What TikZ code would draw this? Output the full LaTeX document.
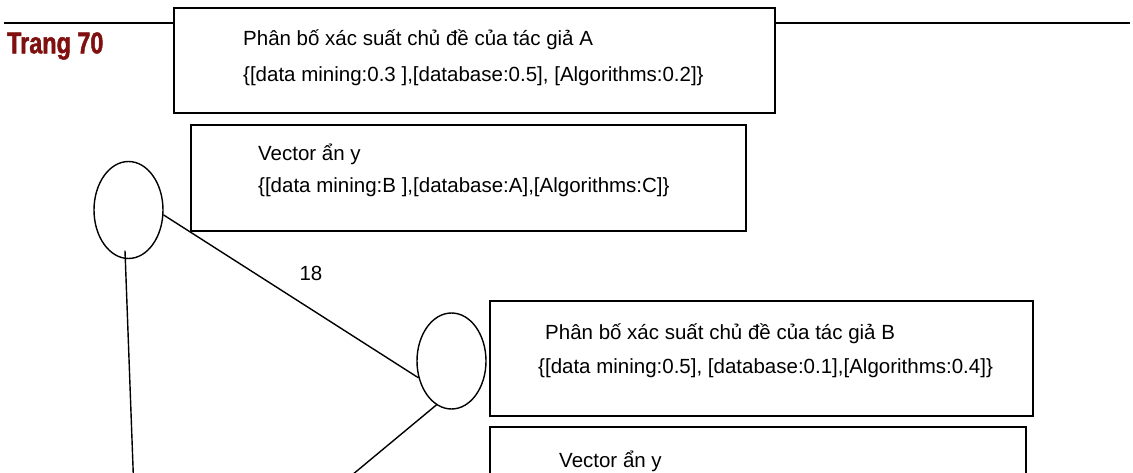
\documentclass[tikz,border=0pt]{standalone}
\usepackage{fontspec}
\setmainfont{Liberation Sans}
\newfontfamily\trangfont[FakeStretch=0.78,BoldFeatures={FakeBold=1.5}]{Liberation Sans}
\usetikzlibrary{shapes.geometric}
\definecolor{trangred}{RGB}{128,16,16}
\begin{document}
\begin{tikzpicture}[x=1pt,y=-1pt,
  box/.style={draw, line width=1.6pt, fill=white, inner sep=0pt, anchor=north west},
  txt/.style={anchor=base west, inner sep=0pt, font=\fontsize{20.5}{22}\selectfont},
  circ/.style={draw, ellipse, line width=1.4pt, inner sep=0pt, minimum width=69pt, minimum height=97pt},
  link/.style={line width=1.4pt},
  rule/.style={line width=2.8pt}]
\useasboundingbox (0,0) rectangle (1133,473);
\clip (0,0) rectangle (1133,473);
% header rule
\coordinate (hl) at (4,23);
\coordinate (hr) at (1130,23);
\draw[rule] (hl) -- (hr);
\node[anchor=west, inner sep=0pt, text=trangred, font=\trangfont\bfseries\fontsize{30}{32}\selectfont] (trang) at (7,46) {Trang 70};
% boxes
\node[box, minimum width=601pt, minimum height=105pt] (boxA) at (173,7) {};
\node[box, minimum width=555pt, minimum height=106pt] (boxY1) at (190,124) {};
\node[box, minimum width=543pt, minimum height=115pt] (boxB) at (489,300) {};
\node[box, minimum width=536pt, minimum height=90pt] (boxY2) at (489,426) {};
% texts
\node[txt] (a1) at (243,46) {Phân bố xác suất chủ đề của tác giả A};
\node[txt] (a2) at (243,82) {\{[data mining:0.3 ],[database:0.5], [Algorithms:0.2]\}};
\node[txt] (y1) at (258,161) {Vector ẩn y};
\node[txt] (y2) at (258,193) {\{[data mining:B ],[database:A],[Algorithms:C]\}};
\node[txt] (b1) at (545,339) {Phân bố xác suất chủ đề của tác giả B};
\node[txt] (b2) at (538,373) {\{[data mining:0.5], [database:0.1],[Algorithms:0.4]\}};
\node[txt] (y3) at (559,467) {Vector ẩn y};
% author nodes
\node[circ] (c1) at (128.5,210) {};
\node[circ, minimum height=96pt] (c2) at (451.5,361) {};
\draw[link] (c1.-8) -- (c2.-153);
\node[txt, anchor=center] (w18) at (311,273) {18};
\coordinate (v1end) at (133.5,480);
\coordinate (v2end) at (346,480);
\draw[link] ([xshift=-3.5pt,yshift=8.5pt]c1.south) -- (v1end);
\draw[link] (c2.251) -- (v2end);
\end{tikzpicture}
\end{document}
